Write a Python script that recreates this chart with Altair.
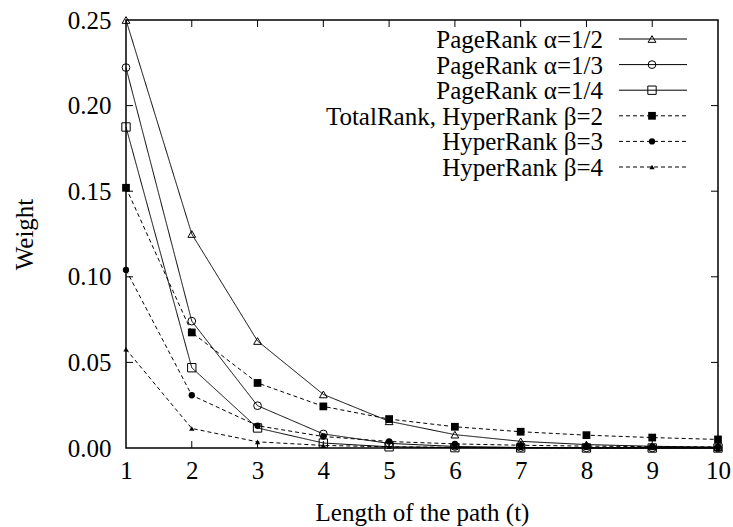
import altair as alt
import pandas as pd

# Path length t and the weight each ranking scheme assigns to paths of that length
t = [1, 2, 3, 4, 5, 6, 7, 8, 9, 10]
pr_half = [0.25, 0.125, 0.0625, 0.0313, 0.0156, 0.0078, 0.0039, 0.002, 0.001, 0.0005]
pr_third = [0.2222, 0.0741, 0.0247, 0.0082, 0.0027, 0.0009, 0.0003, 0.0001, 0.00004, 0.00001]
pr_quarter = [0.1875, 0.0469, 0.0117, 0.0029, 0.0007, 0.0002, 0.00005, 0.00001, 0.0, 0.0]
hr_beta2 = [0.152, 0.0675, 0.038, 0.0243, 0.0169, 0.0124, 0.0095, 0.0075, 0.0061, 0.005]
hr_beta3 = [0.104, 0.0308, 0.013, 0.0067, 0.0038, 0.0024, 0.0016, 0.0011, 0.0008, 0.0006]
hr_beta4 = [0.0577, 0.0114, 0.0036, 0.0015, 0.0007, 0.0004, 0.0002, 0.0001, 0.0001, 0.0001]

labels = [
    "PageRank α=1/2",
    "PageRank α=1/3",
    "PageRank α=1/4",
    "TotalRank, HyperRank β=2",
    "HyperRank β=3",
    "HyperRank β=4",
]
series_values = [pr_half, pr_third, pr_quarter, hr_beta2, hr_beta3, hr_beta4]

x_ticks = [1, 2, 3, 4, 5, 6, 7, 8, 9, 10]
y_ticks = [0.0, 0.05, 0.10, 0.15, 0.20, 0.25]

# marker style per series: (shape, filled, size, dashed)
styles = [
    ("triangle-up", False, 60, False),
    ("circle", False, 60, False),
    ("square", False, 70, False),
    ("square", True, 60, True),
    ("circle", True, 40, True),
    ("triangle-up", True, 28, True),
]

W, H = 592, 428
FONT = "Liberation Serif"
FS = 25

xs = alt.Scale(domain=[1, 10], nice=False)
ys = alt.Scale(domain=[0, 0.25], nice=False)

x_axis = alt.Axis(
    values=x_ticks, format="d", ticks=False, domain=False, grid=False,
    labelFont=FONT, labelFontSize=FS, labelColor="black", labelPadding=10,
    labelFlush=False,
    title="Length of the path (t)", titleFont=FONT, titleFontSize=FS,
    titleFontWeight="normal", titleColor="black",
    titleX=W / 2, titleY=64, titleBaseline="middle", titleAlign="center",
)
y_axis = alt.Axis(
    values=y_ticks, format=".2f", ticks=False, domain=False, grid=False,
    labelFont=FONT, labelFontSize=FS, labelColor="black", labelPadding=15,
    labelFlush=False,
    title="Weight", titleFont=FONT, titleFontSize=FS, titleFontWeight="normal",
    titleColor="black", titleAngle=-90, titleX=-102, titleY=H / 2,
    titleBaseline="middle", titleAlign="center",
)


def ex(field):
    return alt.X(field, type="quantitative", scale=xs, axis=x_axis)


def ey(field):
    return alt.Y(field, type="quantitative", scale=ys, axis=y_axis)


layers = []
for i, (lab, vals) in enumerate(zip(labels, series_values)):
    shape, filled, size, dashed = styles[i]
    df = pd.DataFrame({"t": t, "w": vals})
    dash = [4, 3] if dashed else [1, 0]
    layers.append(
        alt.Chart(df).mark_line(color="black", strokeWidth=1, strokeDash=dash)
        .encode(x=ex("t"), y=ey("w"))
    )
    layers.append(
        alt.Chart(df).mark_point(shape=shape, filled=filled, size=size,
                                 color="black", strokeWidth=1, opacity=1)
        .encode(x=ex("t"), y=ey("w"))
    )

# inward tick marks on all four sides
xt = pd.DataFrame({"t": x_ticks[1:-1]})
yt = pd.DataFrame({"w": y_ticks[1:-1]})
TL = 7
layers.append(alt.Chart(xt).mark_rule(color="black", strokeWidth=1).encode(
    x=ex("t"), y=alt.value(H), y2=alt.value(H - TL)))
layers.append(alt.Chart(xt).mark_rule(color="black", strokeWidth=1).encode(
    x=ex("t"), y=alt.value(0), y2=alt.value(TL)))
layers.append(alt.Chart(yt).mark_rule(color="black", strokeWidth=1).encode(
    y=ey("w"), x=alt.value(0), x2=alt.value(TL)))
layers.append(alt.Chart(yt).mark_rule(color="black", strokeWidth=1).encode(
    y=ey("w"), x=alt.value(W), x2=alt.value(W - TL)))

# key in the upper right corner
one = alt.Data(values=[{"k": 0}])
text_right = 477
line_x0, line_x1, mark_x = 493, 561, 526
row0, row_step = 19, 25.6
for i, lab in enumerate(labels):
    shape, filled, size, dashed = styles[i]
    ly = row0 + row_step * i
    dash = [4, 3] if dashed else [1, 0]
    layers.append(alt.Chart(one).mark_text(
        align="right", baseline="middle", font=FONT, fontSize=FS, color="black"
    ).encode(x=alt.value(text_right), y=alt.value(ly + 1), text=alt.value(lab)))
    layers.append(alt.Chart(one).mark_rule(
        color="black", strokeWidth=1, strokeDash=dash
    ).encode(x=alt.value(line_x0), x2=alt.value(line_x1), y=alt.value(ly)))
    layers.append(alt.Chart(one).mark_point(
        shape=shape, filled=filled, size=size, color="black", strokeWidth=1, opacity=1
    ).encode(x=alt.value(mark_x), y=alt.value(ly)))

chart = alt.layer(*layers).properties(
    width=W, height=H,
    padding={"left": 126, "top": 20, "right": 15, "bottom": 79},
    autosize=alt.AutoSizeParams(type="none"),
    background="white",
).configure_view(stroke="black", strokeWidth=1.5)

chart.save("out.html", embed_options={"renderer": "svg", "actions": False})
